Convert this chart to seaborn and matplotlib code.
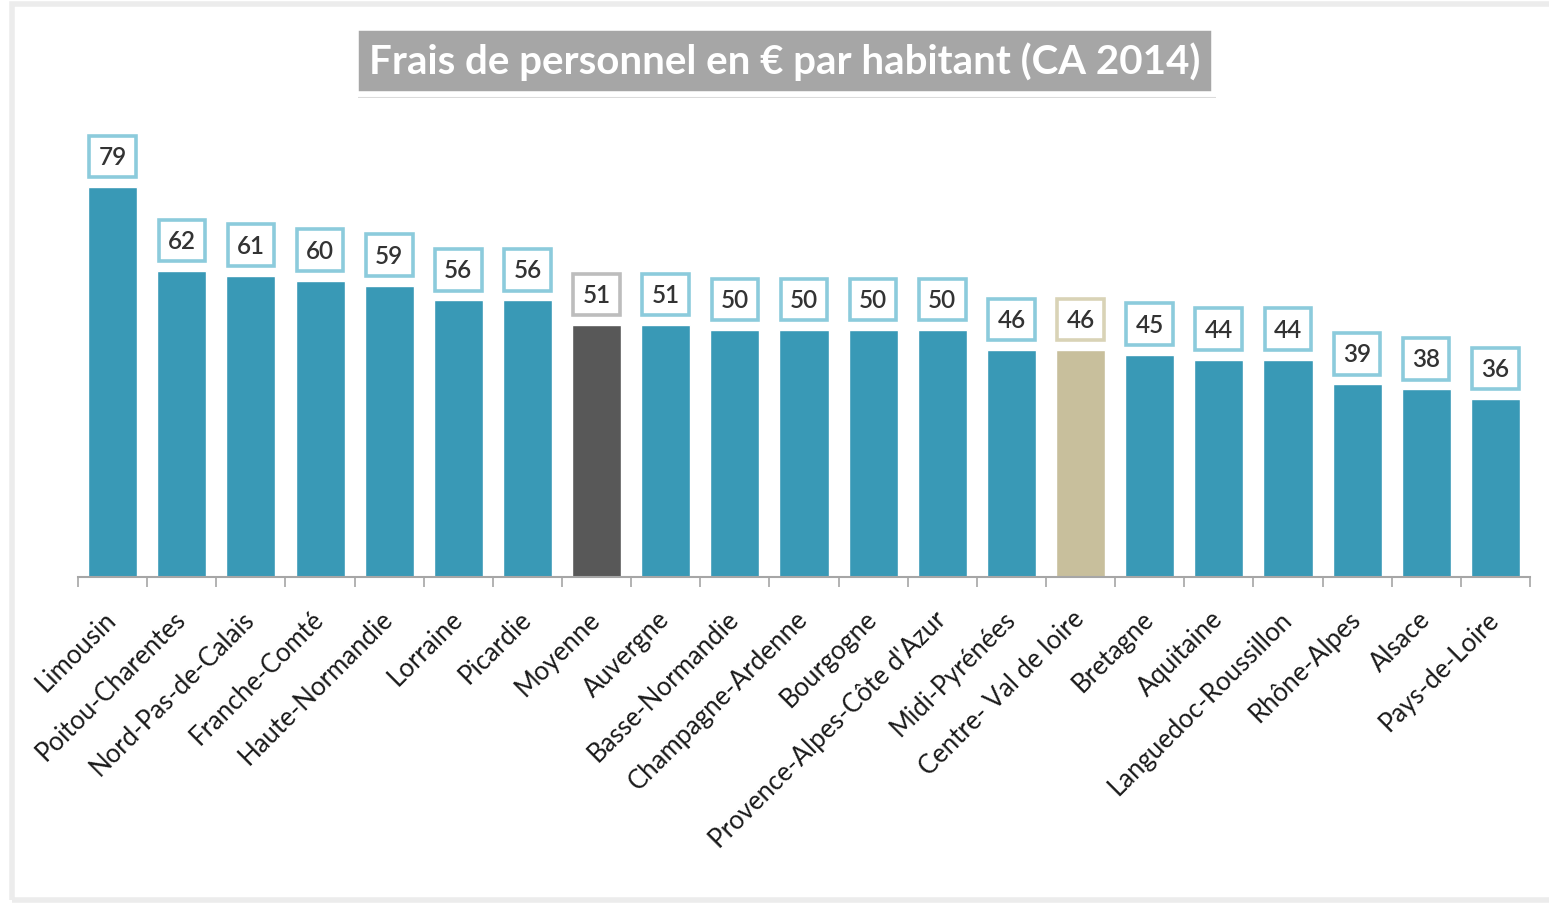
import numpy as np
import pandas as pd
import seaborn as sns
import matplotlib.pyplot as plt
from matplotlib import patheffects
from matplotlib.patches import Rectangle

regions = ["Limousin", "Poitou-Charentes", "Nord-Pas-de-Calais", "Franche-Comté",
           "Haute-Normandie", "Lorraine", "Picardie", "Moyenne", "Auvergne",
           "Basse-Normandie", "Champagne-Ardenne", "Bourgogne",
           "Provence-Alpes-Côte d'Azur", "Midi-Pyrénées", "Centre- Val de loire",
           "Bretagne", "Aquitaine", "Languedoc-Roussillon", "Rhône-Alpes",
           "Alsace", "Pays-de-Loire"]
values = [79, 62, 61, 60, 59, 56, 56, 51, 51, 50, 50, 50, 50, 46, 46, 45, 44, 44, 39, 38, 36]
title = "Frais de personnel en € par habitant (CA 2014)"

# couleurs : barres standard, moyenne, région mise en avant
bar_colors = {"Moyenne": "#585858", "Centre- Val de loire": "#c8bf9c"}
box_colors = {"Moyenne": "#bdbdbd", "Centre- Val de loire": "#d9d3b6"}
default_bar = "#3999b6"
default_box = "#8ccbdc"

sns.set_theme(style="white")
plt.rcParams['font.family'] = ['Lato', 'DejaVu Sans']

fig = plt.figure(figsize=(15.49, 9.04), dpi=100)
ax = fig.add_axes([0.0504, 0.3606, 0.9373, 0.5288])

df = pd.DataFrame({"region": regions, "valeur": values})
palette = {r: bar_colors.get(r, default_bar) for r in regions}
sns.barplot(data=df, x="region", y="valeur", hue="region", palette=palette,
            legend=False, width=0.71, saturation=1, ax=ax)

ax.set_xlim(-0.5, len(regions) - 0.5)
ax.set_ylim(0, 96.8)
ax.set_xlabel("")
ax.set_ylabel("")
ax.set_yticks([])
sns.despine(ax=ax, left=True)
ax.spines['bottom'].set_color('#a6a6a6')
ax.spines['bottom'].set_linewidth(1.5)

ax.set_xticks(np.arange(-0.5, len(regions)), minor=True)
ax.tick_params(axis='x', which='minor', bottom=True, length=7, width=1.2, color='#a6a6a6')
ax.tick_params(axis='x', which='major', length=0, pad=27)
ax.set_xticks(range(len(regions)))
ax.set_xticklabels(regions, rotation=45, ha='right', va='center',
                   rotation_mode='anchor', fontsize=18.5, color='#1a1a1a')

for patch, reg, val in zip(ax.patches, regions, values):
    cx = patch.get_x() + patch.get_width() / 2
    ax.annotate(str(val), xy=(cx, patch.get_height()), xytext=(0, 22),
                textcoords='offset points', ha='center', va='center',
                fontsize=17.5, fontweight='semibold', color='#333333',
                bbox=dict(boxstyle='square,pad=0.38', fc='white',
                          ec=box_colors.get(reg, default_box), lw=2.6))

t = fig.text(0.5068, 0.9314, title, ha='center', va='center', fontsize=29,
             fontweight='bold', color='white',
             bbox=dict(boxstyle='square,pad=0.34', fc='#a6a6a6', ec='white', lw=4))
t.get_bbox_patch().set_path_effects([
    patheffects.withSimplePatchShadow(offset=(1.5, -3), shadow_rgbFace='#9a9a9a', alpha=0.35),
    patheffects.Normal()])

fig.patches.append(Rectangle((0.008, 0.003), 1.0, 0.991, transform=fig.transFigure,
                             fill=False, ec='#ececec', lw=4))

fig.savefig("out.png", dpi=100)
